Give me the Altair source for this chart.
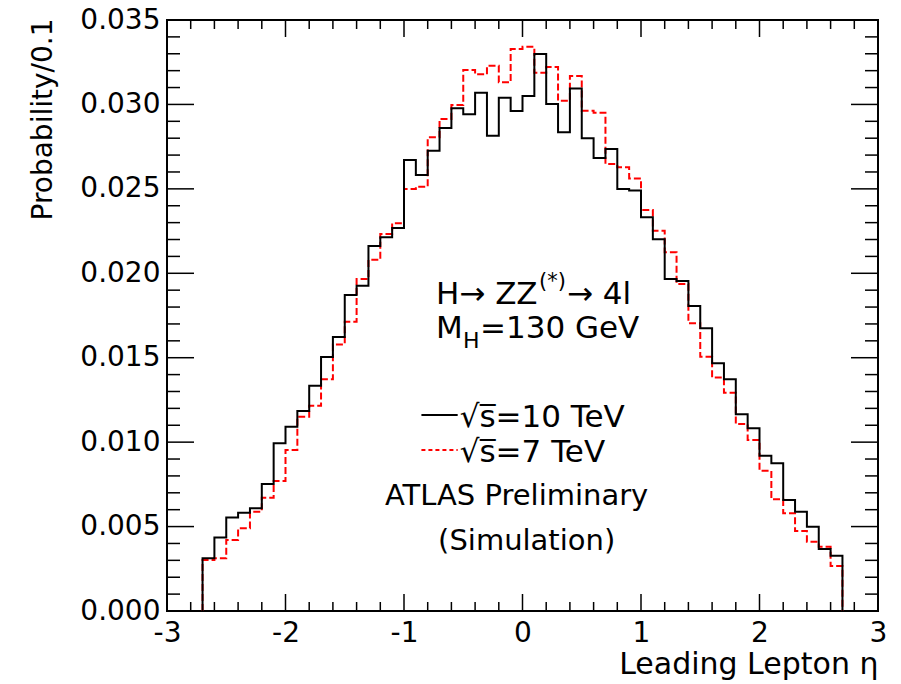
import altair as alt
import pandas as pd

# ---------------- data ----------------
bin_edges = [round(-2.7 + 0.1 * i, 1) for i in range(55)]

black_10tev = [0.00312, 0.00436, 0.00553, 0.00582, 0.00608, 0.00752, 0.00993, 0.01091, 0.01184, 0.01334,
               0.01504, 0.01623, 0.01871, 0.01926, 0.02162, 0.02213, 0.02268, 0.02671, 0.02582, 0.02726,
               0.02860, 0.02977, 0.02942, 0.03069, 0.02815, 0.03040, 0.02961, 0.03050, 0.03299, 0.03002,
               0.02835, 0.03095, 0.02799, 0.02683, 0.02736, 0.02499, 0.02491, 0.02332, 0.02201, 0.01966,
               0.01954, 0.01806, 0.01674, 0.01467, 0.01372, 0.01165, 0.01082, 0.00920, 0.00875, 0.00657,
               0.00588, 0.00499, 0.00367, 0.00327]

red_7tev = [0.00302, 0.00312, 0.00420, 0.00490, 0.00588, 0.00671, 0.00770, 0.00953, 0.01151, 0.01216,
            0.01372, 0.01579, 0.01713, 0.01966, 0.02080, 0.02233, 0.02296, 0.02499, 0.02513, 0.02805,
            0.02914, 0.02997, 0.03204, 0.03178, 0.03229, 0.03131, 0.03328, 0.03342, 0.03188, 0.03222,
            0.03022, 0.03168, 0.02963, 0.02951, 0.02647, 0.02628, 0.02562, 0.02375, 0.02252, 0.02124,
            0.01937, 0.01704, 0.01506, 0.01383, 0.01293, 0.01107, 0.01013, 0.00831, 0.00662, 0.00579,
            0.00474, 0.00410, 0.00381, 0.00266]

x_major = [-3, -2, -1, 0, 1, 2, 3]
x_minor = [-2.8, -2.6, -2.4, -2.2, -1.8, -1.6, -1.4, -1.2, -0.8, -0.6, -0.4, -0.2,
           0.2, 0.4, 0.6, 0.8, 1.2, 1.4, 1.6, 1.8, 2.2, 2.4, 2.6, 2.8]
y_major = [0.0, 0.005, 0.010, 0.015, 0.020, 0.025, 0.030, 0.035]
y_minor = [0.001, 0.002, 0.003, 0.004, 0.006, 0.007, 0.008, 0.009, 0.011, 0.012, 0.013, 0.014,
           0.016, 0.017, 0.018, 0.019, 0.021, 0.022, 0.023, 0.024, 0.026, 0.027, 0.028, 0.029,
           0.031, 0.032, 0.033, 0.034]

# ---------------- layout / style ----------------
W, H = 711, 591
FONT = "DejaVu Sans"
xs = alt.Scale(domain=[-3, 3], nice=False, zero=False)
ys = alt.Scale(domain=[0, 0.035], nice=False, zero=True)


def step_table(vals):
    rows = [{"eta": bin_edges[0], "p": 0.0}]
    for i, v in enumerate(vals):
        rows.append({"eta": bin_edges[i], "p": v})
    rows.append({"eta": bin_edges[-1], "p": vals[-1]})
    rows.append({"eta": bin_edges[-1], "p": 0.0})
    df = pd.DataFrame(rows)
    df["i"] = range(len(df))
    return df


x_axis = alt.Axis(values=x_major, ticks=False, domain=False, grid=False, labelFlush=False,
                  labelOverlap=False, labelPadding=8, labelFont=FONT, labelFontSize=28,
                  labelColor="black", labelExpr="replace(datum.label, '\u2212', '-')",
                  title="Leading Lepton \u03b7", titleFont=FONT, titleFontSize=30,
                  titleFontWeight="normal", titleColor="black", titleX=W, titleY=62,
                  titleAlign="right", titleAnchor="end", titleBaseline="alphabetic")
y_axis = alt.Axis(values=y_major, format=".3f", ticks=False, domain=False, grid=False,
                  labelFlush=False, labelOverlap=False, labelPadding=7, labelFont=FONT,
                  labelFontSize=28, labelColor="black",
                  title="Probability/0.1", titleFont=FONT, titleFontSize=28,
                  titleFontWeight="normal", titleColor="black", titleAngle=270,
                  titleX=-116, titleY=-2, titleAlign="right", titleBaseline="alphabetic")


def X(field):
    return alt.X(field, scale=xs, axis=x_axis)


def Y(field):
    return alt.Y(field, scale=ys, axis=y_axis)


red_line = alt.Chart(step_table(red_7tev)).mark_line(
    interpolate="step-after", color="#ff0000", strokeWidth=2, strokeDash=[7, 3]
).encode(x=X("eta:Q"), y=Y("p:Q"), order="i:Q")

black_line = alt.Chart(step_table(black_10tev)).mark_line(
    interpolate="step-after", color="black", strokeWidth=2
).encode(x=X("eta:Q"), y=Y("p:Q"), order="i:Q")


def xticks(vals, length, top):
    y0, y1 = (0, length) if top else (H, H - length)
    return alt.Chart(pd.DataFrame({"t": vals})).mark_rule(color="black", strokeWidth=1.5).encode(
        x=X("t:Q"), y=alt.value(y0), y2=alt.value(y1))


def yticks(vals, length, right):
    x0, x1 = (W, W - length) if right else (0, length)
    return alt.Chart(pd.DataFrame({"t": vals})).mark_rule(color="black", strokeWidth=1.5).encode(
        y=Y("t:Q"), x=alt.value(x0), x2=alt.value(x1))


ticks = [xticks(x_major, 17, False), xticks(x_minor, 9, False),
         xticks(x_major, 17, True), xticks(x_minor, 9, True),
         yticks(y_major, 27, False), yticks(y_minor, 13, False),
         yticks(y_major, 27, True), yticks(y_minor, 13, True)]


def text(label, eta, p, size, align="left", dx=0, dy=0):
    return alt.Chart(pd.DataFrame({"eta": [eta], "p": [p], "label": [label]})).mark_text(
        font=FONT, fontSize=size, align=align, baseline="alphabetic", color="black", dx=dx, dy=dy
    ).encode(x=X("eta:Q"), y=Y("p:Q"), text="label:N")


ann_x = -0.73
texts = [
    text("H\u2192 ZZ", ann_x, 0.01816, 31),
    text("(*)", ann_x, 0.01816, 21, dx=103, dy=-16),
    text("\u2192 4l", ann_x, 0.01816, 31, dx=131),
    text("M", ann_x, 0.01615, 31),
    text("H", ann_x, 0.01615, 22, dx=27, dy=10),
    text("=130 GeV", ann_x, 0.01615, 31, dx=44),
    text("\u221as\u0305=10 TeV", -0.53, 0.01092, 31),
    text("\u221as\u0305=7 TeV", -0.53, 0.00884, 31),
    text("ATLAS Preliminary", -0.05, 0.00628, 29, align="center"),
    text("(Simulation)", 0.035, 0.00361, 29, align="center"),
]

leg = pd.DataFrame({"x0": [-0.853, -0.853], "x1": [-0.547, -0.547], "p": [0.01161, 0.00953],
                    "s": ["10", "7"]})
leg_black = alt.Chart(leg[leg.s == "10"]).mark_rule(color="black", strokeWidth=2).encode(
    x=X("x0:Q"), x2="x1:Q", y=Y("p:Q"))
leg_red = alt.Chart(leg[leg.s == "7"]).mark_rule(color="#ff0000", strokeWidth=2, strokeDash=[4, 3]).encode(
    x=X("x0:Q"), x2="x1:Q", y=Y("p:Q"))

chart = alt.layer(red_line, black_line, *ticks, leg_black, leg_red, *texts).properties(
    width=W, height=H,
    padding={"left": 167, "top": 20, "right": 23, "bottom": 73},
    autosize=alt.AutoSizeParams(type="none"),
    background="white",
).configure_view(stroke="black", strokeWidth=2)

chart.save("out.html", embed_options={"renderer": "svg", "actions": False})
